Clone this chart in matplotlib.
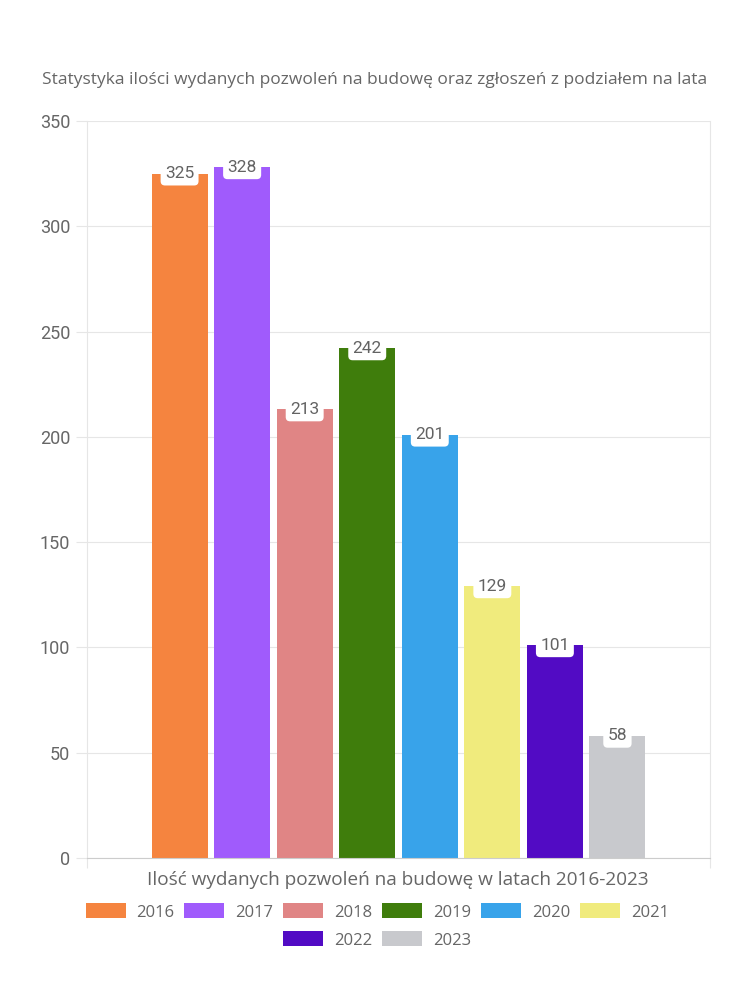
import matplotlib
matplotlib.use("Agg")
import matplotlib.pyplot as plt
from matplotlib.patches import Patch

years = ["2016", "2017", "2018", "2019", "2020", "2021", "2022", "2023"]
values = [325, 328, 213, 242, 201, 129, 101, 58]
colors = ["#F5843F", "#A05BFC", "#E08585", "#3F7D0C", "#38A3EA", "#F0EB7D", "#520BC4", "#C8C9CD"]
title = "Statystyka ilości wydanych pozwoleń na budowę oraz zgłoszeń z podziałem na lata"
xlabel = "Ilość wydanych pozwoleń na budowę w latach 2016-2023"
yticks = [0, 50, 100, 150, 200, 250, 300, 350]

plt.rcParams['font.family'] = ['Open Sans', 'DejaVu Sans']
txt = "#666666"
grid = "#e6e6e6"

fig = plt.figure(figsize=(7.5, 10), dpi=100)
ax = fig.add_axes([0.116, 0.142, 0.8307, 0.737])

slot = 0.1004
width = 0.0899
n = len(years)
for i, (y, v, c) in enumerate(zip(years, values, colors)):
    x = (i - (n - 1) / 2) * slot
    ax.bar(x, v, width=width, color=c, zorder=2)
    ax.text(x, v, str(v), ha="center", va="center", fontsize=12.5, color="#636363", zorder=4,
            family="Roboto",
            bbox=dict(boxstyle="round,pad=0.25,rounding_size=0.25", fc="white", ec="none"))

ax.set_xlim(-0.5, 0.5)
ax.set_ylim(0, 350)
ax.set_yticks(yticks)
ax.set_yticklabels([str(t) for t in yticks], fontsize=13, color=txt, family="Roboto")
ax.tick_params(axis="y", length=8, color=grid, pad=4)
ax.set_xticks([-0.5, 0.5])
ax.set_xticklabels(["", ""])
ax.tick_params(axis="x", length=7, color=grid)
ax.grid(axis="y", color=grid, linewidth=0.8, zorder=0)
for s in ["left", "right"]:
    ax.spines[s].set_color(grid)
ax.spines["top"].set_visible(False)
ax.spines["bottom"].set_color("#cccccc")

fig.text(0.5, 0.92, title, ha="center", va="center", fontsize=12.5, color=txt)
fig.text(0.531, 0.12, xlabel, ha="center", va="center", fontsize=13.7, color=txt)

handles = [Patch(facecolor=c, edgecolor="none") for c in colors]
kw = dict(frameon=False, fontsize=12, handlelength=2.4, handleheight=1.0,
          handletextpad=0.65, columnspacing=0.6, labelcolor=txt)
leg1 = fig.legend(handles[:6], years[:6], loc="center", bbox_to_anchor=(0.503, 0.088), ncol=6, **kw)
leg2 = fig.legend(handles[6:], years[6:], loc="center", bbox_to_anchor=(0.503, 0.06), ncol=2, **kw)

fig.savefig("out.png", dpi=100, facecolor="white")
